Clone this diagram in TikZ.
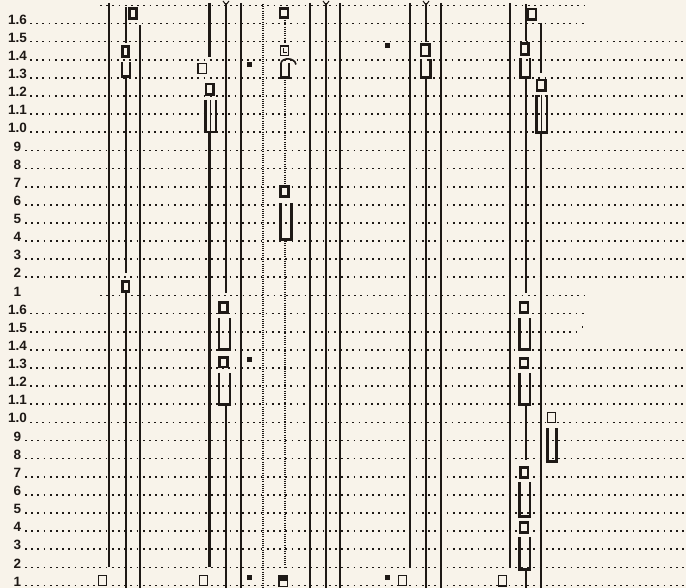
\documentclass[tikz,border=0pt]{standalone}
\usepackage{fontspec}
\setmainfont{Liberation Sans}
\definecolor{paper}{RGB}{248,243,234}
\definecolor{ink}{RGB}{30,25,22}
\begin{document}
\begin{tikzpicture}[x=1pt,y=-1pt,
  vline/.style={ink, line width=2.2pt},
  mline/.style={ink, line width=1.6pt},
  dline/.style={ink, line width=1.5pt, dash pattern=on 1pt off 1.2pt},
  rowdots/.style={ink, line width=1.7pt, dash pattern=on 1.7pt off 4.5pt},
  sqk/.style={draw=ink, fill=paper, line width=2.6pt},
  sqh/.style={draw=ink, fill=paper, line width=1.6pt},
  ushape/.style={draw=ink, line width=2.4pt, line join=miter},
  blob/.style={fill=ink},
  serif/.style={ink, line width=1pt},
  lbl/.style={font=\fontsize{13.5}{14}\selectfont\bfseries, text=ink, anchor=base, inner sep=0pt}
]
\fill[paper] (0,0) rectangle (686,588);
\useasboundingbox (0,0) rectangle (686,588);

% ---------- rows ----------
\draw[rowdots] (100,5.4) -- (585,5.4);
\foreach \k in {0,...,31}{
  \pgfmathsetmacro\yy{23.5+18.13*\k}
  \pgfmathtruncatemacro\n{\k<16 ? 16-\k : 32-\k}
  \pgfmathsetmacro\xs{(\n>9) ? 30 : 25}
  \pgfmathsetmacro\xe{(\k==0 || \k==15 || \k==16) ? 585 : ((\k==17) ? 580 : 686)}
  \ifnum\k=15 \def\xs{100}\fi
  \node[lbl] (lab\k) at (17.5,\yy+0.6) {\ifnum\n>9 1.\the\numexpr\n-10\relax\else\n\fi};
  \draw[rowdots] (\xs,\yy) -- (\xe,\yy);
}
\fill[ink] (581.5,326) rectangle (583.2,327.7);

% ---------- group 1 ----------
\draw[vline] (109,3) -- (109,567);
\draw[mline] (126,7) -- (126,43);
\draw[sqk] (129.5,8.5) rectangle (136.5,18.5);
\draw[sqk] (122.5,46.5) rectangle (128.5,56.5);
\draw[ushape] (122,62) -- (122,76.5) -- (130,76.5) -- (130,62);
\draw[mline] (126,77) -- (126,273);
\draw[sqk] (122.5,281.5) rectangle (129,291.5);
\draw[mline] (126,293) -- (126,588);
\draw[vline] (140,25) -- (140,588);
\draw[sqh] (98.5,575.5) rectangle (106.5,585.5);

% ---------- group 2 ----------
\draw[vline] (209.5,3) -- (209.5,57);
\draw[sqh] (198,63.5) rectangle (206.5,73.5);
\draw[sqk] (206,84) rectangle (213.5,94.5);
\draw[ushape] (205.5,100) -- (205.5,132) -- (216,132) -- (216,100);
\draw[mline] (210.5,100) -- (210.5,132);
\draw[vline] (209.5,132) -- (209.5,567);
\draw[sqh] (199.5,575.5) rectangle (207.5,585.5);
\draw[serif] (223,1) -- (226,5) -- (229,1);
\draw[mline] (226,3) -- (226,293);
\draw[sqk] (219.5,302.5) rectangle (227.5,312.5);
\draw[ushape] (219,318) -- (219,349.5) -- (230,349.5) -- (230,318);
\draw[sqk] (219.5,357.5) rectangle (227.5,367);
\draw[ushape] (219,372.5) -- (219,404.5) -- (230,404.5) -- (230,372.5);
\draw[mline] (226,405) -- (226,588);
\draw[vline] (241,3) -- (241,588);
\fill[blob] (247,62) rectangle (252,67);
\fill[blob] (247,357) rectangle (252,362);
\fill[blob] (247,575) rectangle (252,580);

% ---------- dotted tracks ----------
\draw[dline] (263,4) -- (263,588);
\draw[sqk] (280,8.5) rectangle (288,17.5);
\draw[dline] (285,20) -- (285,44);
\draw[draw=ink, fill=paper, line width=1.9pt] (280.5,46) rectangle (288.5,55.5);
\draw[ink, line width=1.1pt] (283.2,48.5) -- (283.2,52.8) -- (286.5,52.8);
\draw[ushape] (281,63) -- (281,77.5) -- (289,77.5) -- (289,63);
\draw[ink, line width=1.6pt] (281,63) .. controls (282,57.5) and (294.5,57) .. (296,64.5);
\draw[dline] (285,80) -- (285,184);
\draw[sqk] (280.5,186.5) rectangle (288.5,196.5);
\draw[ushape] (280.5,203) -- (280.5,239.5) -- (291.5,239.5) -- (291.5,203);
\draw[dline] (285,241) -- (285,567);
\draw[sqh] (279,576) rectangle (287.5,586.5);
\fill[ink] (279,576) rectangle (287.5,581);

% ---------- group 3 ----------
\draw[vline] (310,3) -- (310,588);
\draw[serif] (323,1) -- (326,5) -- (329,1);
\draw[mline] (326,3) -- (326,588);
\draw[vline] (340,3) -- (340,588);
\fill[blob] (385,43) rectangle (390,48.5);
\fill[blob] (385,575) rectangle (390,580);

% ---------- group 4 ----------
\draw[vline] (410,3) -- (410,567);
\draw[serif] (423,1) -- (426,5) -- (429,1);
\draw[mline] (426,3) -- (426,42);
\draw[sqk] (421,44.5) rectangle (429.5,56);
\draw[ushape] (421,59) -- (421,77.5) -- (430.5,77.5) -- (430.5,59);
\draw[mline] (426,78) -- (426,588);
\draw[vline] (441,3) -- (441,588);
\draw[sqh] (398.5,575.5) rectangle (406.5,585.5);

% ---------- group 5 ----------
\draw[vline] (510,3) -- (510,568);
\draw[sqh] (498.5,575.5) rectangle (506.5,586);
\draw[mline] (526,4) -- (526,41);
\draw[sqk] (527.5,9) rectangle (536,19.5);
\draw[sqk] (521,43.5) rectangle (528.5,54.5);
\draw[ushape] (520.5,58.5) -- (520.5,77.5) -- (530,77.5) -- (530,58.5);
\draw[mline] (526,78) -- (526,293);
\draw[sqk] (520,302.5) rectangle (528,312.5);
\draw[ushape] (519.5,318) -- (519.5,349.5) -- (530,349.5) -- (530,318);
\draw[sqk] (520,358.5) rectangle (528,367.5);
\draw[ushape] (519.5,372.5) -- (519.5,404.5) -- (530,404.5) -- (530,372.5);
\draw[mline] (526,405) -- (526,460);
\draw[sqk] (520.5,467.5) rectangle (528,477.5);
\draw[ushape] (519.5,482) -- (519.5,516.5) -- (530,516.5) -- (530,482);
\draw[sqk] (520,522.5) rectangle (528,532.5);
\draw[ushape] (519.5,537) -- (519.5,569.5) -- (530,569.5) -- (530,537);
\draw[mline] (526,570) -- (526,588);
\draw[mline] (541,23) -- (541,73);
\draw[sqk] (537,80) rectangle (545.5,90.5);
\draw[ushape] (536.5,95) -- (536.5,132.5) -- (547,132.5) -- (547,95);
\draw[mline] (541.5,95) -- (541.5,132.5);
\draw[vline] (541,133) -- (541,588);
\draw[sqh] (547.5,412.5) rectangle (555.5,422.5);
\draw[ushape] (547.5,428) -- (547.5,461.5) -- (556.5,461.5) -- (556.5,428);
\end{tikzpicture}
\end{document}
